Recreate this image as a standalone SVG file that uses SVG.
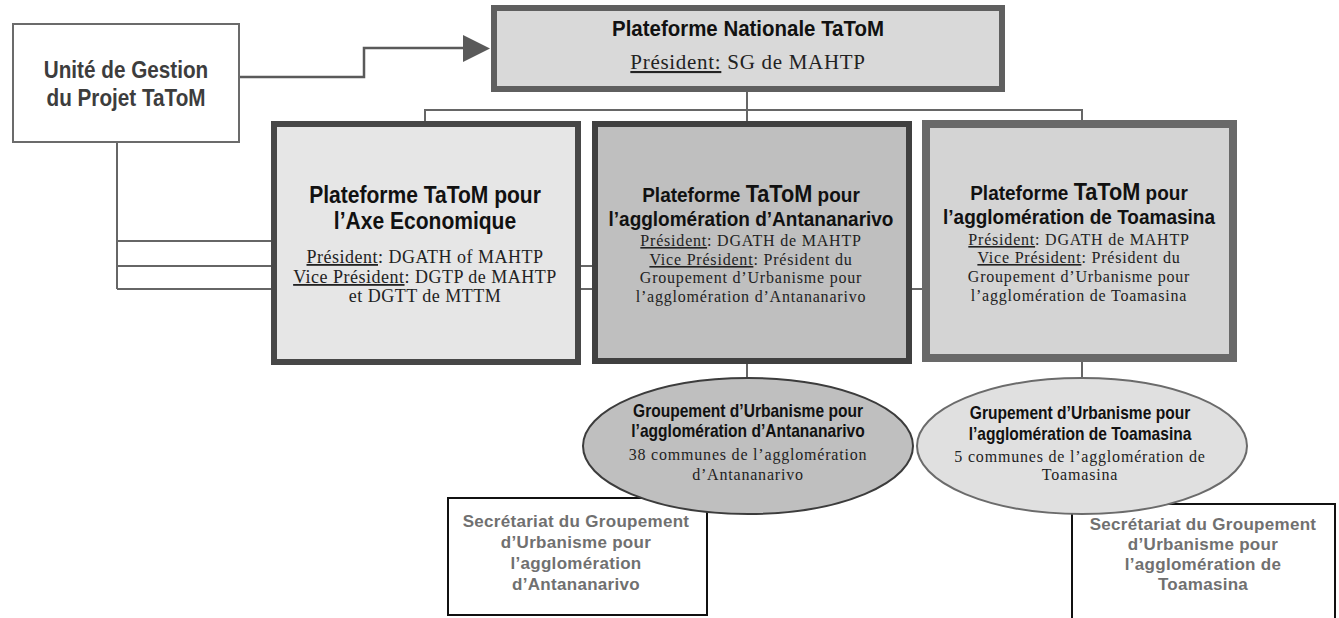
<svg xmlns="http://www.w3.org/2000/svg" width="1339" height="618" viewBox="0 0 1339 618">
<style>
.t{font-family:"Liberation Sans",Arial,sans-serif;font-weight:bold;text-anchor:middle;fill:#111}
.s{font-family:"Liberation Serif","Times New Roman",serif;text-anchor:middle;fill:#222}
.u{text-decoration:underline}
.c{fill:none;stroke:#666;stroke-width:2}
.g{font-family:"Liberation Sans",Arial,sans-serif;font-weight:bold;text-anchor:middle;fill:#707070;font-size:17px;letter-spacing:0.3px}
</style>
<rect width="1339" height="618" fill="#fff"/>
<g id="connectors">
<path class="c" d="M117 143V289M117 241H271M117 266H592M117 289H922"/>
<path class="c" d="M425 121V110H1082V120M747 92V121M747 364V378M1082 362V378"/>
<path d="M240 77H364V48H464" fill="none" stroke="#5a5a5a" stroke-width="2.5"/>
<polygon points="463,35 490,48.5 463,62" fill="#5a5a5a"/>
</g>
<g id="ugp">
<rect x="13" y="24" width="226" height="118" fill="#fff" stroke="#6b6b6b" stroke-width="2"/>
<text class="t" transform="matrix(0.9 0 0 1 126 0)" x="0" y="78" font-size="23" style="fill:#3d3d3d">Unité de Gestion</text>
<text class="t" transform="matrix(0.9 0 0 1 126 0)" x="0" y="106" font-size="23" style="fill:#3d3d3d">du Projet TaToM</text>
</g>
<g id="national">
<rect x="494" y="8" width="508" height="81" fill="#d9d9d9" stroke="#5f5f5f" stroke-width="6"/>
<text class="t" transform="matrix(0.93 0 0 1 748 0)" x="0" y="36" font-size="22">Plateforme Nationale TaToM</text>
<text class="s" x="748" y="69" font-size="21" letter-spacing="0.7"><tspan class="u">Président:</tspan> SG de MAHTP</text>
</g>
<g id="axe">
<rect x="274" y="124" width="304" height="238" fill="#e6e6e6" stroke="#474747" stroke-width="6"/>
<text class="t" transform="matrix(0.915 0 0 1 425 0)" x="0" y="203" font-size="23">Plateforme TaToM pour</text>
<text class="t" transform="matrix(0.915 0 0 1 425 0)" x="0" y="229" font-size="23">l’Axe Economique</text>
<text class="s" x="425" y="263" font-size="18" letter-spacing="0.5"><tspan class="u">Président</tspan>: DGATH of MAHTP</text>
<text class="s" x="425" y="283" font-size="18" letter-spacing="0.5"><tspan class="u">Vice Président</tspan>: DGTP de MAHTP</text>
<text class="s" x="425" y="302" font-size="18" letter-spacing="0.5">et DGTT de MTTM</text>
</g>
<g id="antananarivo">
<rect x="595" y="124" width="314" height="237" fill="#bfbfbf" stroke="#404040" stroke-width="6"/>
<text class="t" transform="matrix(0.905 0 0 1 751 0)" x="0" y="202" font-size="21">Plateforme <tspan font-size="24">TaToM</tspan> pour</text>
<text class="t" transform="matrix(0.905 0 0 1 751 0)" x="0" y="226" font-size="21">l’agglomération d’Antananarivo</text>
<text class="s" x="751" y="246" font-size="16" letter-spacing="0.8"><tspan class="u">Président</tspan>: DGATH de MAHTP</text>
<text class="s" x="751" y="265" font-size="16" letter-spacing="0.8"><tspan class="u">Vice Président</tspan>: Président du</text>
<text class="s" x="751" y="283" font-size="16" letter-spacing="0.8">Groupement d’Urbanisme pour</text>
<text class="s" x="751" y="302" font-size="16" letter-spacing="0.8">l’agglomération d’Antananarivo</text>
</g>
<g id="toamasina">
<rect x="926" y="124" width="307" height="234" fill="#d4d4d4" stroke="#696969" stroke-width="8"/>
<text class="t" transform="matrix(0.905 0 0 1 1079 0)" x="0" y="200" font-size="21">Plateforme <tspan font-size="24">TaToM</tspan> pour</text>
<text class="t" transform="matrix(0.905 0 0 1 1079 0)" x="0" y="224" font-size="21">l’agglomération de Toamasina</text>
<text class="s" x="1079" y="245" font-size="16" letter-spacing="0.8"><tspan class="u">Président</tspan>: DGATH de MAHTP</text>
<text class="s" x="1079" y="263" font-size="16" letter-spacing="0.8"><tspan class="u">Vice Président</tspan>: Président du</text>
<text class="s" x="1079" y="282" font-size="16" letter-spacing="0.8">Groupement d’Urbanisme pour</text>
<text class="s" x="1079" y="301" font-size="16" letter-spacing="0.8">l’agglomération de Toamasina</text>
</g>
<g id="sec-antananarivo">
<rect x="448" y="498" width="259" height="117" fill="#fff" stroke="#111" stroke-width="2"/>
<text class="g" x="576" y="527">Secrétariat du Groupement</text>
<text class="g" x="576" y="548">d’Urbanisme pour</text>
<text class="g" x="576" y="569">l’agglomération</text>
<text class="g" x="576" y="590">d’Antananarivo</text>
</g>
<g id="sec-toamasina">
<rect x="1072" y="504" width="263" height="120" fill="#fff" stroke="#111" stroke-width="2"/>
<text class="g" x="1203" y="530">Secrétariat du Groupement</text>
<text class="g" x="1203" y="550">d’Urbanisme pour</text>
<text class="g" x="1203" y="570">l’agglomération de</text>
<text class="g" x="1203" y="590">Toamasina</text>
</g>
<g id="gu-antananarivo">
<ellipse cx="748" cy="446" rx="165" ry="68" fill="#bfbfbf" stroke="#3c3c3c" stroke-width="2"/>
<text class="t" transform="matrix(0.89 0 0 1 748 0)" x="0" y="417" font-size="17.5">Groupement d’Urbanisme pour</text>
<text class="t" transform="matrix(0.89 0 0 1 748 0)" x="0" y="437" font-size="17.5">l’agglomération d’Antananarivo</text>
<text class="s" x="748" y="460" font-size="16" letter-spacing="0.8">38 communes de l’agglomération</text>
<text class="s" x="748" y="480" font-size="16" letter-spacing="0.8">d’Antananarivo</text>
</g>
<g id="gu-toamasina">
<ellipse cx="1082" cy="446" rx="165" ry="68" fill="#e0e0e0" stroke="#6b6b6b" stroke-width="2"/>
<text class="t" transform="matrix(0.89 0 0 1 1080 0)" x="0" y="419" font-size="17.5">Grupement d’Urbanisme pour</text>
<text class="t" transform="matrix(0.89 0 0 1 1080 0)" x="0" y="440" font-size="17.5">l’agglomération de Toamasina</text>
<text class="s" x="1080" y="462" font-size="16" letter-spacing="0.8">5 communes de l’agglomération de</text>
<text class="s" x="1080" y="480" font-size="16" letter-spacing="0.8">Toamasina</text>
</g>
</svg>
